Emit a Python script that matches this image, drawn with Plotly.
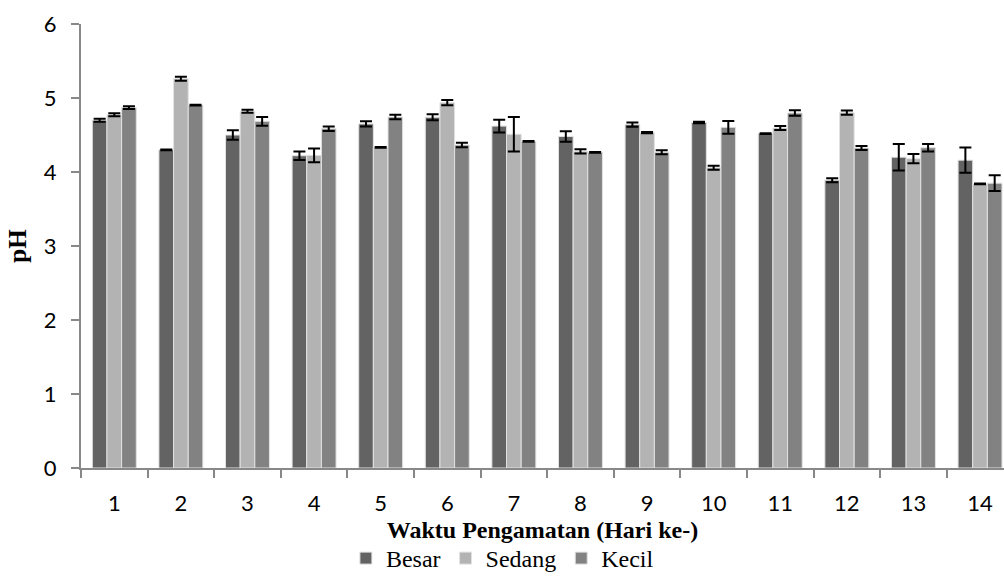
import plotly.graph_objects as go

days = [str(i) for i in range(1, 15)]
besar = [4.70, 4.30, 4.50, 4.22, 4.65, 4.74, 4.62, 4.48, 4.64, 4.67, 4.52, 3.89, 4.20, 4.16]
besar_err = [0.02, 0.005, 0.063, 0.058, 0.036, 0.04, 0.086, 0.072, 0.03, 0.01, 0.005, 0.027, 0.18, 0.171]
sedang = [4.775, 5.26, 4.82, 4.225, 4.333, 4.937, 4.51, 4.279, 4.532, 4.058, 4.595, 4.802, 4.18, 3.838]
sedang_err = [0.02, 0.027, 0.02, 0.092, 0.005, 0.036, 0.232, 0.03, 0.01, 0.027, 0.027, 0.03, 0.063, 0.005]
kecil = [4.87, 4.905, 4.685, 4.585, 4.743, 4.365, 4.414, 4.266, 4.266, 4.604, 4.797, 4.324, 4.328, 3.849]
kecil_err = [0.02, 0.005, 0.059, 0.03, 0.03, 0.03, 0.005, 0.005, 0.027, 0.086, 0.036, 0.027, 0.05, 0.106]

series = [
    ("Besar", besar, besar_err, "#636363"),
    ("Sedang", sedang, sedang_err, "#b3b3b3"),
    ("Kecil", kecil, kecil_err, "#828282"),
]

fig = go.Figure()
for name, vals, errs, col in series:
    fig.add_trace(go.Bar(
        name=name, x=days, y=vals,
        marker=dict(color=col, line=dict(color="#e2e2e2", width=1)),
        error_y=dict(type="data", array=errs, visible=True,
                     color="black", thickness=2, width=6),
    ))

axis_col = "#888888"
fig.update_layout(
    width=1004, height=581,
    margin=dict(l=81, r=0, t=24, b=113),
    paper_bgcolor="white", plot_bgcolor="white",
    barmode="group", bargap=0.34, bargroupgap=0,
    xaxis=dict(
        type="category", range=[-0.5, 13.36], automargin=False,
        showline=True, linecolor=axis_col, linewidth=2,
        ticks="outside", tickson="boundaries", ticklen=8, tickwidth=2, tickcolor=axis_col,
        showgrid=False, zeroline=False,
        tickfont=dict(family="Lato", size=22, color="black"),
        ticklabelstandoff=15,
        title=dict(text="<b>Waktu Pengamatan (Hari ke-)</b>",
                   font=dict(family="Liberation Serif", size=24, color="black"),
                   standoff=6),
    ),
    yaxis=dict(
        range=[0, 6], dtick=1, automargin=False,
        showline=True, linecolor=axis_col, linewidth=2,
        ticks="outside", ticklen=8, tickwidth=2, tickcolor=axis_col,
        showgrid=False, zeroline=False,
        tickfont=dict(family="Lato", size=22, color="black"),
        ticklabelstandoff=10,
        title=dict(text="<b>pH</b>",
                   font=dict(family="Liberation Serif", size=25, color="black"),
                   standoff=10),
    ),
    legend=dict(
        orientation="h", x=0.287, xanchor="left", y=-0.205, yanchor="middle",
        font=dict(family="Liberation Serif", size=24, color="black"),
        bgcolor="rgba(0,0,0,0)", itemclick=False, borderwidth=0,
    ),
    showlegend=True,
)

fig.write_html("out.html", config={"displayModeBar": False},
               post_script="document.body.style.margin='0';document.body.style.overflow='hidden';")
